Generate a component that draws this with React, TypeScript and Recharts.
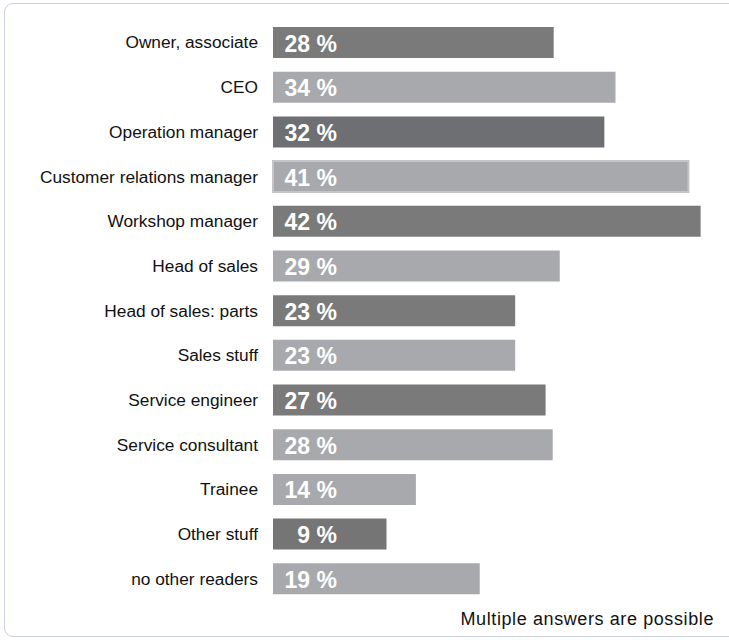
import React from 'react';
import { BarChart, Bar, XAxis, YAxis, Cell, LabelList } from 'recharts';

// readers by position
const roles = [
  'Owner, associate',
  'CEO',
  'Operation manager',
  'Customer relations manager',
  'Workshop manager',
  'Head of sales',
  'Head of sales: parts',
  'Sales stuff',
  'Service engineer',
  'Service consultant',
  'Trainee',
  'Other stuff',
  'no other readers',
];
const shareLabels = ['28 %', '34 %', '32 %', '41 %', '42 %', '29 %', '23 %', '23 %', '27 %', '28 %', '14 %', '9 %', '19 %'];
// bar lengths as drawn in the source (percent)
const barLengths = [27.7, 33.8, 32.7, 41.0, 42.2, 28.3, 23.9, 23.9, 26.9, 27.6, 14.1, 11.2, 20.4];
const barColors = [
  '#7a7a7b', '#a8a9ad', '#6e6f73', '#a8a9ad', '#7a7a7b', '#a8a9ad', '#7a7a7b',
  '#a8a9ad', '#7a7a7b', '#a8a9ad', '#a8a9ad', '#757576', '#a8a9ad',
];

const data = roles.map((role, i) => ({
  role,
  value: barLengths[i],
  label: shareLabels[i],
}));

const ValueLabel = (props: any) => {
  const { x, y, height, value } = props;
  return (
    <text
      x={x + 64}
      y={y + height / 2 + 1}
      textAnchor="end"
      dominantBaseline="central"
      fill="#ffffff"
      fontSize={23}
      fontWeight="bold"
      fontFamily="'Liberation Sans', Arial, sans-serif"
    >
      {value}
    </text>
  );
};

export default function App() {
  return (
    <div style={{ position: 'absolute', left: 0, top: 0, width: 729, height: 640, overflow: 'hidden', background: '#fff' }}>
      <div
        style={{
          position: 'absolute',
          left: 4,
          top: 3,
          width: 760,
          height: 634,
          border: '1px solid #cbd1dc',
          borderRadius: 9,
          boxSizing: 'border-box',
        }}
      />
      <div style={{ position: 'absolute', left: 0, top: 0 }}>
        <BarChart
          width={729}
          height={640}
          data={data}
          layout="vertical"
          margin={{ top: 20, right: 0, bottom: 39, left: 0 }}
        >
          <XAxis type="number" domain={[0, 45]} hide />
          <YAxis
            type="category"
            dataKey="role"
            width={273}
            axisLine={false}
            tickLine={false}
            tickSize={0}
            tickMargin={15}
            tick={{ fill: '#111111', fontSize: 17.3, fontFamily: "'Liberation Sans', Arial, sans-serif" }}
          />
          <Bar dataKey="value" barSize={31} isAnimationActive={false}>
            {data.map((d, i) => (
              <Cell
                key={d.role}
                fill={barColors[i]}
                stroke={i === 3 ? '#c5c5c7' : 'none'}
                strokeWidth={i === 3 ? 2 : 0}
              />
            ))}
            <LabelList dataKey="label" content={ValueLabel} />
          </Bar>
        </BarChart>
      </div>
      <div
        style={{
          position: 'absolute',
          right: 15,
          top: 609,
          fontSize: 18,
          letterSpacing: 0.6,
          fontFamily: "'Liberation Sans', Arial, sans-serif",
          color: '#111111',
          whiteSpace: 'nowrap',
        }}
      >
        Multiple answers are possible
      </div>
    </div>
  );
}
